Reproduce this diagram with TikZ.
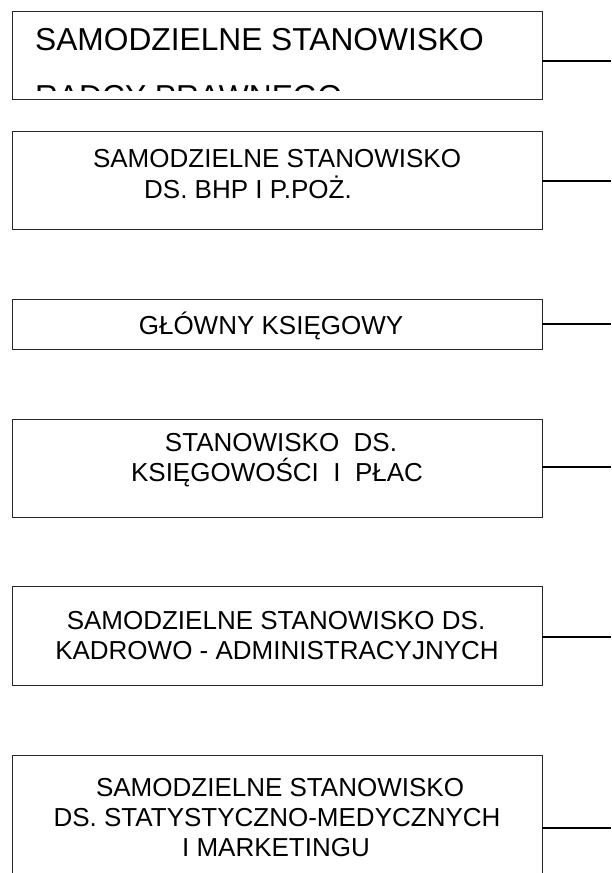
\documentclass[tikz,border=0pt]{standalone}
\usepackage{fontspec}
\setmainfont{Liberation Sans}
\newfontfamily\bigfont{Liberation Sans}
\newfontfamily\boxfont{Liberation Sans}
\begin{document}
\begin{tikzpicture}[x=1pt,y=-1pt,
  box/.style={draw=black!85, line width=0.9pt, rectangle, inner sep=0pt, minimum width=530pt},
  conn/.style={draw=black, line width=1.6pt},
  txt/.style={anchor=base, inner sep=0pt, font=\boxfont\fontsize{26}{30}\selectfont},
  bigtxt/.style={anchor=base west, inner sep=0pt, font=\bigfont\fontsize{31.7}{36}\selectfont}]
\useasboundingbox (0,0) rectangle (611,873);
\clip (0,0) rectangle (611,873);
% boxes
\node[box, minimum height=88pt] (b1) at (277,55) {};
\node[box, minimum height=98pt] (b2) at (277,180) {};
\node[box, minimum height=50.5pt] (b3) at (277,324.2) {};
\node[box, minimum height=98pt] (b4) at (277,468) {};
\node[box, minimum height=99pt] (b5) at (277,636.2) {};
\node[box, minimum height=145pt] (b6) at (277,827.5) {};
% texts
\node[bigtxt] (t1a) at (35,50.5) {SAMODZIELNE STANOWISKO};
\begin{scope}
  \clip (12,11) rectangle (542,90);
  \node[bigtxt] (t1b) at (35,107.5) {RADCY PRAWNEGO};
\end{scope}
\node[txt] (t2a) at (277,167) {SAMODZIELNE STANOWISKO};
\node[txt, anchor=base west] (t2b) at (144,198) {DS. BHP I P.POŻ.};
\node[txt] (t3) at (271,334) {GŁÓWNY KSIĘGOWY};
\node[txt] (t4a) at (281,451) {STANOWISKO\ \ DS.};
\node[txt] (t4b) at (277,481) {KSIĘGOWOŚCI\ \ I\ \ PŁAC};
\node[txt] (t5a) at (276,629) {SAMODZIELNE STANOWISKO DS.};
\node[txt] (t5b) at (277,659) {KADROWO - ADMINISTRACYJNYCH};
\node[txt] (t6a) at (280,796) {SAMODZIELNE STANOWISKO};
\node[txt] (t6b) at (277,826) {DS. STATYSTYCZNO-MEDYCZNYCH};
\node[txt] (t6c) at (276,856) {I MARKETINGU};
% connectors
\coordinate (c1) at (611,61);
\coordinate (c2) at (611,181);
\coordinate (c3) at (611,324);
\coordinate (c4) at (611,467);
\coordinate (c5) at (611,637);
\coordinate (c6) at (611,828);
\draw[conn] (c1 -| b1.east) -- (c1);
\draw[conn] (c2 -| b2.east) -- (c2);
\draw[conn] (c3 -| b3.east) -- (c3);
\draw[conn] (c4 -| b4.east) -- (c4);
\draw[conn] (c5 -| b5.east) -- (c5);
\draw[conn] (c6 -| b6.east) -- (c6);
\end{tikzpicture}
\end{document}
